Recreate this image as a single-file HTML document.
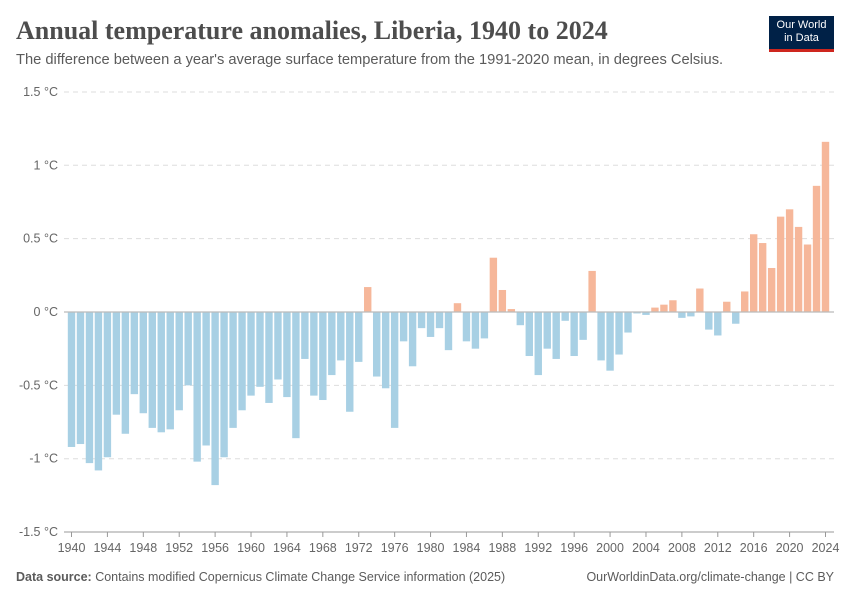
<!DOCTYPE html>
<html><head><meta charset="utf-8"><style>
body{margin:0;background:#fff;font-family:"Liberation Sans",sans-serif;}
#wrap{position:relative;width:850px;height:600px;overflow:hidden;}
h1{position:absolute;left:16px;top:16px;margin:0;font-family:"Liberation Serif",serif;font-weight:700;font-size:26px;color:#4d4d4d;}
.sub{position:absolute;left:16px;top:52px;font-size:14.7px;color:#5b5b5b;}
.logo{position:absolute;left:769px;top:16px;width:65px;height:36px;background:#002147;color:#fff;font-size:11px;text-align:center;line-height:13px;padding-top:3px;box-sizing:border-box;border-bottom:3px solid #ce261e;}
.foot{position:absolute;top:570px;font-size:12.5px;color:#5b5b5b;}
</style></head><body>
<div id="wrap">
<h1>Annual temperature anomalies, Liberia, 1940 to 2024</h1>
<div class="sub">The difference between a year's average surface temperature from the 1991-2020 mean, in degrees Celsius.</div>
<div class="logo">Our World<br>in Data</div>
<svg id="chart" width="850" height="600" style="position:absolute;left:0;top:0"></svg>
<div class="foot" style="left:16px"><b>Data source:</b> Contains modified Copernicus Climate Change Service information (2025)</div>
<div class="foot" style="right:16px">OurWorldinData.org/climate-change | CC BY</div>
</div>
<script>
const years=[];for(let y=1940;y<=2024;y++)years.push(y);
const values=[-0.92,-0.90,-1.03,-1.08,-0.99,-0.70,-0.83,-0.56,-0.69,-0.79,-0.82,-0.80,-0.67,-0.50,-1.02,-0.91,-1.18,-0.99,-0.79,-0.67,-0.57,-0.51,-0.62,-0.46,-0.58,-0.86,-0.32,-0.57,-0.60,-0.43,-0.33,-0.68,-0.34,0.17,-0.44,-0.52,-0.79,-0.20,-0.37,-0.11,-0.17,-0.11,-0.26,0.06,-0.20,-0.25,-0.18,0.37,0.15,0.02,-0.09,-0.30,-0.43,-0.25,-0.32,-0.06,-0.30,-0.19,0.28,-0.33,-0.40,-0.29,-0.14,-0.01,-0.02,0.03,0.05,0.08,-0.04,-0.03,0.16,-0.12,-0.16,0.07,-0.08,0.14,0.53,0.47,0.30,0.65,0.70,0.58,0.46,0.86,1.16];
const yTicks=[-1.5,-1,-0.5,0,0.5,1,1.5];
const yTickLabels=["-1.5 °C","-1 °C","-0.5 °C","0 °C","0.5 °C","1 °C","1.5 °C"];
const xTickYears=[1940,1944,1948,1952,1956,1960,1964,1968,1972,1976,1980,1984,1988,1992,1996,2000,2004,2008,2012,2016,2020,2024];
const NS="http://www.w3.org/2000/svg",svg=document.getElementById('chart');
const y=v=>312-v*146.7;
const x=yr=>71.5+(yr-1940)*(754/84);
function mk(t,a){const e=document.createElementNS(NS,t);for(const k in a)e.setAttribute(k,a[k]);svg.appendChild(e);return e;}
yTicks.forEach((t,i)=>{
 if(t!==0){const l=mk('line',{x1:64,x2:834,y1:y(t),y2:y(t),stroke:'#ddd','stroke-dasharray':'5,4'});
 
 }
 const tx=mk('text',{x:58,y:y(t)+4,'text-anchor':'end','font-size':'12.5',fill:'#666','font-family':'Liberation Sans'});
 tx.textContent=yTickLabels[i];
 
 
});
years.forEach((yr,i)=>{
 const v=values[i];
 const r=mk('rect',{x:x(yr)-3.7,width:7.4,y:Math.min(y(v),y(0)),height:Math.abs(y(v)-y(0)),fill:v>=0?'#f6b79a':'#a8d0e4'});
 
 
});
const z=mk('line',{x1:64,x2:834,y1:312,y2:312,stroke:'#bbb','stroke-width':1.2});


const ax=mk('line',{x1:64,x2:834,y1:532,y2:532,stroke:'#999'});


xTickYears.forEach(yr=>{
 const tk=mk('line',{x1:x(yr),x2:x(yr),y1:532,y2:537,stroke:'#999'});
 
 
 const t=mk('text',{x:x(yr),y:552,'text-anchor':'middle','font-size':'12.5',fill:'#666','font-family':'Liberation Sans'});
 t.textContent=yr;
 
 
});
</script>
</body></html>
